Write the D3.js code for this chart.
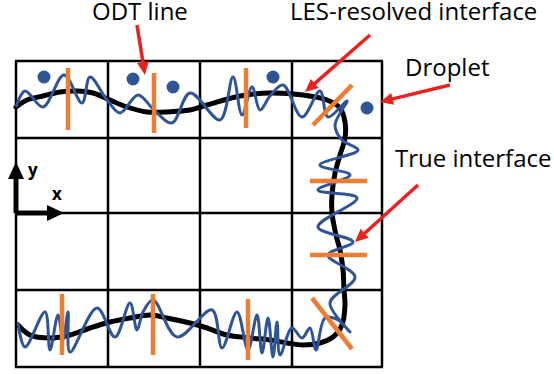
<!DOCTYPE html>
<html>
<head>
<meta charset="utf-8">
<script src="https://cdn.jsdelivr.net/npm/d3@7"></script>
<style>
  body { margin: 0; background: #fff; }
  svg { display: block; }
</style>
</head>
<body>
<div id="chart"></div>
<script>
// grid lines (diagram units)
var gridCols = [0, 92, 184, 276, 366];
var gridRows = [0, 77, 152, 229, 306];

// true interface (black)
var trueInterface = [[0,46],[11,39],[27,35],[44,31],[61,30],[77,32],[94,39],[111,46],[131,51],[149,51],
  [174,49],[191,44],[224,35],[254,32],[287,34],[311,39],[324,47],[329,61],[329,77],[324,94],[319,112],
  [316,134],[316,152],[320,174],[324,189],[327,209],[328,229],[329,244],[326,264],[317,276],[304,282],
  [287,284],[271,282],[254,279],[234,277],[211,274],[191,267],[174,262],[151,257],[134,254],[114,257],
  [94,261],[74,267],[54,274],[34,277],[14,274],[2,264]];

// ODT line (blue)
var odtLine = [[0,46],[9,30],[27,46],[48,14],[66,42],[74,16],[91,39],[104,52],[122,34],[138,49],
  [156,62],[174,32],[204,59],[217,16],[226,54],[236,26],[244,49],[254,35],[267,24],[286,56],[304,30],
  [312,56],[331,40],[319,64],[326,79],
  [342,89],[304,104],[334,114],[302,129],[341,137],[302,166],[337,181],[312,194],[339,216],[314,242],
  [334,271],[322,259],[309,257],[300,289],[294,267],[286,277],[276,267],[264,294],[261,261],[257,296],
  [252,257],[246,292],[241,254],[232,289],[221,251],[206,287],[196,249],[161,276],[137,239],[127,251],
  [121,269],[114,242],[99,276],[81,247],[54,291],[52,251],[47,279],[42,254],[34,289],[29,251],[9,286],[2,262]];

// LES-resolved interface segments (orange)
var lesSegments = [
  [[52,7],[52,69]], [[138,12],[138,72]], [[230,7],[230,67]], [[297,64],[336,24]],
  [[294,120],[351,120]], [[294,194],[351,194]],
  [[46,233],[46,294]], [[137,233],[137,294]], [[232,238],[232,299]], [[296,237],[336,288]]
];

// droplets
var droplets = [[28,16],[117,18],[157,26],[257,16],[351,47]];

// callouts
var labels = ["ODT line", "LES-resolved interface", "Droplet", "True interface"];
var labelPos = [[76,-41],[274,-41],[389,15],[379,106]];
var arrows = [
  [[121,-36],[129,14]],
  [[354,-26],[289,31]],
  [[434,24],[364,41]],
  [[402,124],[339,181]]
];

// axes glyph
var axisOrigin = [0,152], axisYTip = [0,101], axisXTip = [48,152];

var width = 554, height = 374;
var x = d3.scaleLinear().domain([0, 366]).range([16, 382]);
var y = d3.scaleLinear().domain([0, 306]).range([61, 367]);

var svg = d3.select("#chart").append("svg")
    .attr("width", width)
    .attr("height", height);

var blue = "#2f5597", orange = "#ed7d31", red = "#e8231f";
var font = "'Open Sans', sans-serif";

// grid
svg.append("g").selectAll("line").data(gridCols).join("line")
    .attr("x1", d => x(d)).attr("x2", d => x(d))
    .attr("y1", y(0)).attr("y2", y(306))
    .attr("stroke", "#000").attr("stroke-width", 2.5);
svg.append("g").selectAll("line").data(gridRows).join("line")
    .attr("y1", d => y(d)).attr("y2", d => y(d))
    .attr("x1", x(0) - 1).attr("x2", x(366) + 1)
    .attr("stroke", "#000").attr("stroke-width", 2.5);

var line = d3.line()
    .x(d => x(d[0]))
    .y(d => y(d[1]))
    .curve(d3.curveCatmullRom.alpha(0.5));

svg.append("path")
    .datum(trueInterface)
    .attr("fill", "none")
    .attr("stroke", "#000")
    .attr("stroke-width", 5)
    .attr("stroke-linecap", "round")
    .attr("d", line);

svg.append("path")
    .datum(odtLine)
    .attr("fill", "none")
    .attr("stroke", blue)
    .attr("stroke-width", 3)
    .attr("stroke-linejoin", "round")
    .attr("d", line);

svg.append("g").selectAll("line").data(lesSegments).join("line")
    .attr("x1", d => x(d[0][0])).attr("y1", d => y(d[0][1]))
    .attr("x2", d => x(d[1][0])).attr("y2", d => y(d[1][1]))
    .attr("stroke", orange).attr("stroke-width", 4.5);

svg.append("g").selectAll("circle").data(droplets).join("circle")
    .attr("cx", d => x(d[0])).attr("cy", d => y(d[1]))
    .attr("r", 6.5).attr("fill", blue);

// arrow helper: shaft + filled head
function arrow(g, p0, p1, color, w, headLen, headW) {
  var x0 = x(p0[0]), y0 = y(p0[1]), x1 = x(p1[0]), y1 = y(p1[1]);
  var dx = x1 - x0, dy = y1 - y0, L = Math.sqrt(dx*dx + dy*dy);
  var ux = dx / L, uy = dy / L;
  var bx = x1 - ux * headLen, by = y1 - uy * headLen;
  g.append("line")
    .attr("x1", x0).attr("y1", y0).attr("x2", bx + ux).attr("y2", by + uy)
    .attr("stroke", color).attr("stroke-width", w);
  g.append("path")
    .attr("d", "M" + x1 + "," + y1 +
      "L" + (bx - uy * headW / 2) + "," + (by + ux * headW / 2) +
      "L" + (bx + uy * headW / 2) + "," + (by - ux * headW / 2) + "Z")
    .attr("fill", color);
}

var ag = svg.append("g");
arrows.forEach(a => arrow(ag, a[0], a[1], red, 3.5, 13, 12));

// coordinate glyph
arrow(ag, axisOrigin, axisYTip, "#000", 5, 17, 16);
arrow(ag, [axisOrigin[0] - 1, axisOrigin[1]], axisXTip, "#000", 5, 17, 16);
svg.append("text").attr("x", x(12)).attr("y", y(115))
    .attr("font-family", font).attr("font-weight", "bold").attr("font-size", 17).text("y");
svg.append("text").attr("x", x(36)).attr("y", y(139))
    .attr("font-family", font).attr("font-weight", "bold").attr("font-size", 17).text("x");

svg.append("g").selectAll("text").data(labels).join("text")
    .attr("x", (d, i) => x(labelPos[i][0]))
    .attr("y", (d, i) => y(labelPos[i][1]))
    .attr("font-family", font)
    .attr("font-size", 24)
    .attr("fill", "#000")
    .text(d => d);
</script>
</body>
</html>
